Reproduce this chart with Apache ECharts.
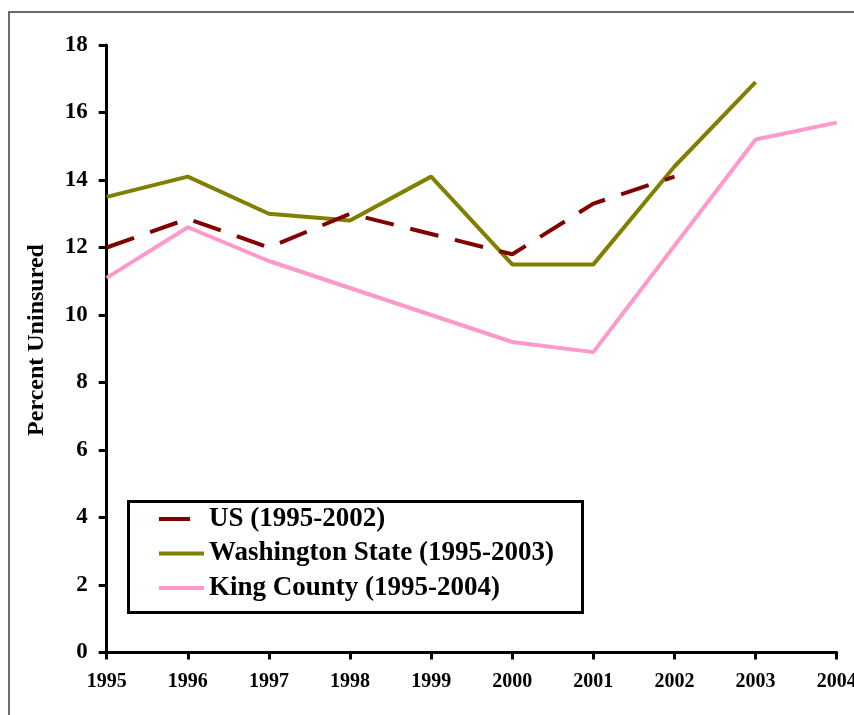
<!DOCTYPE html>
<html>
<head>
<meta charset="utf-8">
<script src="https://cdn.jsdelivr.net/npm/echarts@6/dist/echarts.min.js"></script>
<style>
html,body{margin:0;padding:0;background:#fff;}
#chart{width:854px;height:715px;}
</style>
</head>
<body>
<div id="chart"></div>
<script>
var years = ['1995','1996','1997','1998','1999','2000','2001','2002','2003','2004'];
var usValues = [12.0, 12.85, 12.0, 13.0, 12.4, 11.8, 13.3, 14.1];
var waValues = [13.5, 14.1, 13.0, 12.8, 14.1, 11.5, 11.5, 14.4, 16.9];
var kingValues = [11.1, 12.6, 11.6, 10.8, 10.0, 9.2, 8.9, 12.05, 15.2, 15.7];
var seriesNames = ['US (1995-2002)', 'Washington State (1995-2003)', 'King County (1995-2004)'];
var yAxisTitle = 'Percent Uninsured';
var yTicks = {min: 0, max: 18, interval: 2};

var FONT = "'Liberation Serif','Times New Roman',serif";
var chart = echarts.init(document.getElementById('chart'), null, {renderer: 'canvas'});
chart.setOption({
  animation: false,
  backgroundColor: '#ffffff',
  graphic: [
    {type: 'rect', shape: {x: 9, y: 12, width: 900, height: 800}, style: {fill: 'none', stroke: '#3a3a3a', lineWidth: 1.5}, z: 0, silent: true},
    {type: 'rect', shape: {x: 128.5, y: 501.5, width: 454, height: 111}, style: {fill: '#ffffff', stroke: '#000', lineWidth: 3}, z: 5, silent: true},
    {type: 'text', x: 37, y: 340, rotation: Math.PI / 2, silent: true, z: 10,
     style: {text: yAxisTitle, fill: '#000', font: 'bold 24px ' + FONT, textAlign: 'center', textVerticalAlign: 'middle'}}
  ],
  grid: {left: 106.7, right: 17.3, top: 45, bottom: 62.5, containLabel: false, outerBoundsMode: 'none'},
  legend: {
    orient: 'vertical',
    left: 157, top: 505.5,
    padding: 0,
    itemGap: 7.5,
    itemWidth: 45, itemHeight: 4,
    z: 10,
    itemStyle: {opacity: 0},
    lineStyle: {width: 4},
    textStyle: {fontFamily: FONT, fontWeight: 'bold', fontSize: 27, lineHeight: 27, color: '#000'},
    data: [
      {name: seriesNames[0], lineStyle: {type: [31, 20], width: 4}},
      {name: seriesNames[1]},
      {name: seriesNames[2]}
    ]
  },
  xAxis: {
    type: 'category',
    data: years,
    boundaryGap: false,
    axisLine: {lineStyle: {color: '#000', width: 3}},
    axisTick: {show: true, length: 7, lineStyle: {color: '#000', width: 3}},
    axisLabel: {margin: 19, fontFamily: FONT, fontWeight: 'bold', fontSize: 20, color: '#000', showMaxLabel: true, showMinLabel: true, interval: 0},
    splitLine: {show: false}
  },
  yAxis: {
    type: 'value',
    min: yTicks.min, max: yTicks.max, interval: yTicks.interval,
    axisLine: {show: true, lineStyle: {color: '#000', width: 3}},
    axisTick: {show: true, length: 8, lineStyle: {color: '#000', width: 3}},
    axisLabel: {margin: 19, fontFamily: FONT, fontWeight: 'bold', fontSize: 23, color: '#000'},
    splitLine: {show: false}
  },
  series: [
    {name: seriesNames[0], type: 'line', data: usValues, symbol: 'none', z: 3,
     lineStyle: {color: '#800000', width: 4, type: [29, 17], cap: 'butt'}, itemStyle: {color: '#800000'}},
    {name: seriesNames[1], type: 'line', data: waValues, symbol: 'none', z: 2,
     lineStyle: {color: '#808000', width: 4}, itemStyle: {color: '#808000'}},
    {name: seriesNames[2], type: 'line', data: kingValues, symbol: 'none', z: 1,
     lineStyle: {color: '#ff99cc', width: 4}, itemStyle: {color: '#ff99cc'}}
  ]
});
</script>
</body>
</html>
